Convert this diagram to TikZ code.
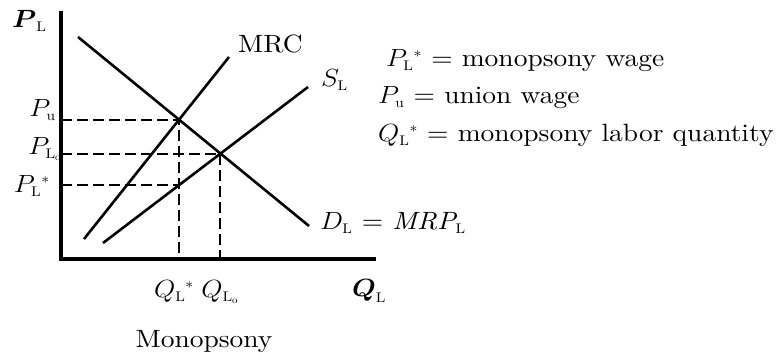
\documentclass[tikz,border=0pt]{standalone}
\usepackage{amsmath, amssymb}
\usepackage{graphicx}
\usepackage{fontspec}
\setmainfont{lmroman10-regular.otf}[
    BoldFont=lmroman10-bold.otf,
    ItalicFont=lmroman10-italic.otf,
    BoldItalicFont=lmroman10-bolditalic.otf]
\usepackage{tikz}
\DeclareMathSizes{25}{25}{14}{10}
\newcommand{\wtxt}[1]{\scalebox{1.1}[1]{#1}}

\begin{document}
\begin{tikzpicture}[
        x=1pt, y=-1pt,
        axis_line/.style={
            draw=black,
            line width=4pt
        },
        curve_line/.style={
            draw=black,
            line width=2.6pt
        },
        guide_line/.style={
            draw=black,
            line width=2pt,
            dash pattern=on 11pt off 5pt
        },
        label_text/.style={
            font=\fontsize{25}{30}\selectfont,
            inner sep=0pt
        }
    ]
        \useasboundingbox (0,0) rectangle (780,358);

        % Axes
        \coordinate (origin) at (61,259);
        \coordinate (y_top)  at (61,11);
        \coordinate (x_end)  at (376,259);
        \draw[axis_line] (y_top) |- (x_end);

        % Curve end points
        \coordinate (d_start) at (78,37);
        \coordinate (d_end)   at (309,226);
        \coordinate (m_start) at (84,239);
        \coordinate (m_end)   at (229,57);
        \coordinate (s_start) at (103,243);
        \coordinate (s_end)   at (308,87);

        % Curves
        \draw[curve_line] (d_start) -- (d_end);
        \draw[curve_line] (m_start) -- (m_end);
        \draw[curve_line] (s_start) -- (s_end);

        % Key points
        \coordinate (union_pt) at (intersection of d_start--d_end and m_start--m_end);
        \coordinate (comp_pt)  at (intersection of d_start--d_end and s_start--s_end);
        \coordinate (q_star)   at (union_pt |- origin);
        \coordinate (q_comp)   at (comp_pt |- origin);
        \coordinate (mono_pt)  at (intersection of s_start--s_end and union_pt--q_star);

        % Dashed guides
        \draw[guide_line] (origin |- union_pt) -- (union_pt) -- (q_star);
        \draw[guide_line] (origin |- comp_pt) -- (comp_pt) -- (q_comp);
        \draw[guide_line] (origin |- mono_pt) -- (mono_pt);

        % Axis labels
        \node[label_text, anchor=base west] (p_axis) at (12,28) {\wtxt{$\boldsymbol{P}_{\mathrm{L}}$}};
        \node[label_text, anchor=base west] (q_axis) at (352,297) {\wtxt{$\boldsymbol{Q}_{\mathrm{L}}$}};
        \node[label_text, anchor=base east] (p_union) at (56,117) {\wtxt{$P_{\mathrm{u}}$}};
        \node[label_text, anchor=base east] (p_comp) at (62,155) {\wtxt{$P_{\mathrm{L}_{\mathrm{o}}}$}};
        \node[label_text, anchor=base east] (p_mono) at (50,193) {\wtxt{$P_{\mathrm{L}}{}^{*}$}};
        \node[label_text, anchor=base] (q_mono) at (174,298) {\wtxt{$Q_{\mathrm{L}}{}^{*}$}};
        \node[label_text, anchor=base] (q_comp_lbl) at (220,298) {\wtxt{$Q_{\mathrm{L}_{\mathrm{o}}}$}};

        % Curve labels
        \node[label_text, anchor=base west] (mrc_lbl) at (238,53) {\wtxt{MRC}};
        \node[label_text, anchor=base west] (s_lbl) at (321,87) {\wtxt{$S_{\mathrm{L}}$}};
        \node[label_text, anchor=base west] (d_lbl) at (320,230) {\wtxt{$D_{\mathrm{L}}$ = $\mathit{MRP}_{\mathrm{L}}$}};

        % Legend
        \node[label_text, anchor=base west] (key_mono) at (386,67) {\wtxt{$P_{\mathrm{L}}{}^{*}$ = monopsony wage}};
        \node[label_text, anchor=base west] (key_union) at (378,104) {\wtxt{$P_{\mathrm{u}}$ = union wage}};
        \node[label_text, anchor=base west] (key_qty) at (378,142) {\wtxt{$Q_{\mathrm{L}}{}^{*}$ = monopsony labor quantity}};

        % Title
        \node[label_text, anchor=base] (title) at (204,348) {\wtxt{Monopsony}};
    \end{tikzpicture}
\end{document}
